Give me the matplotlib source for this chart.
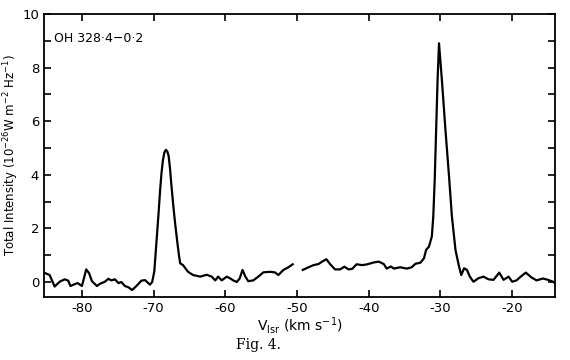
import matplotlib
matplotlib.use("Agg")
import matplotlib.pyplot as plt
from matplotlib.ticker import MultipleLocator

# Segment 1 (before gap)
v1 = [-85.1, -84.5, -83.8, -83.1, -82.4, -81.9, -81.6, -81.0, -80.6, -80.0, -79.8, -79.4,
      -79.0, -78.6, -77.9, -77.5, -76.8, -76.3, -75.9, -75.4, -74.9, -74.5, -74.0, -73.5,
      -73.0, -72.4, -71.7, -71.2, -70.5, -70.2, -69.9, -69.6, -69.3, -69.1, -68.9, -68.7,
      -68.5, -68.3, -68.1, -67.9, -67.7, -67.5, -67.2, -67.0, -66.7, -66.5, -66.3, -65.9,
      -65.2, -64.5, -63.5, -62.6, -61.9, -61.4,
      -61.0, -60.5, -59.8, -59.3, -58.9, -58.4, -58.0, -57.6, -57.2, -56.8, -56.1, -55.4,
      -54.7, -53.8, -53.1, -52.6, -51.9, -51.2, -50.6]
i1 = [0.33, 0.26, -0.17, 0.01, 0.10, 0.05, -0.15, -0.08, -0.04, -0.15, 0.05, 0.47,
      0.33, 0.03, -0.15, -0.07, 0.01, 0.12, 0.06, 0.10, -0.04, 0.00, -0.15, -0.20,
      -0.30, -0.15, 0.05, 0.07, -0.10, 0.00, 0.40, 1.50, 2.60, 3.40, 4.06, 4.55,
      4.83, 4.93, 4.88, 4.70, 4.20, 3.56, 2.70, 2.19, 1.50, 1.07, 0.70, 0.63,
      0.38, 0.26, 0.20, 0.27, 0.20, 0.06,
      0.20, 0.06, 0.20, 0.13, 0.06, 0.00, 0.13, 0.45, 0.20, 0.03, 0.06, 0.20,
      0.36, 0.38, 0.36, 0.26, 0.45, 0.55, 0.66]

# Segment 2 (after gap)
v2 = [-49.2, -48.4, -47.7, -47.0, -46.5, -45.9, -45.4, -44.7, -44.0, -43.4, -42.8, -42.3,
      -41.7, -40.9, -40.2, -39.3, -38.6, -37.9, -37.5, -36.9, -36.5, -35.6, -34.7, -34.0,
      -33.5, -32.8, -32.3, -32.0, -31.6, -31.2, -31.0, -30.8, -30.6, -30.4, -30.2, -29.8,
      -29.3, -28.8, -28.4, -27.9, -27.4, -27.1, -26.7, -26.3, -25.9, -25.4, -24.7, -24.0,
      -23.3, -22.6, -21.8, -21.2, -20.5, -20.0, -19.4, -18.8, -18.1, -17.3, -16.6, -15.7,
      -15.0, -14.3, -13.9]
i2 = [0.45, 0.55, 0.63, 0.67, 0.76, 0.85, 0.67, 0.47, 0.47, 0.57, 0.47, 0.49,
      0.66, 0.63, 0.66, 0.73, 0.76, 0.67, 0.50, 0.58, 0.50, 0.55, 0.50, 0.55,
      0.68, 0.72, 0.88, 1.20, 1.32, 1.70, 2.44, 3.81, 5.67, 7.54, 8.91, 7.54,
      5.67, 3.93, 2.44, 1.19, 0.57, 0.26, 0.51, 0.45, 0.20, 0.01, 0.14, 0.20,
      0.10, 0.08, 0.35, 0.08, 0.20, 0.01, 0.06, 0.20, 0.35, 0.17, 0.06, 0.13,
      0.08, 0.01, -0.07]

xticks = [-80, -70, -60, -50, -40, -30, -20]
yticks = [0, 2, 4, 6, 8, 10]

fig = plt.figure(figsize=(5.7, 3.6), dpi=100)
ax = fig.add_axes([0.077, 0.175, 0.897, 0.786])
ax.plot(v1, i1, color="black", lw=1.6)
ax.plot(v2, i2, color="black", lw=1.6)
ax.set_xlim(-85.3, -14.0)
ax.set_ylim(-0.56, 10)
ax.set_xticks(xticks)
ax.set_xticklabels([f"-{abs(t)}" for t in xticks])
ax.set_yticks(yticks)
ax.yaxis.set_minor_locator(MultipleLocator(1))
ax.tick_params(which="both", direction="in", top=True, right=True, labelsize=9.5,
               width=1.2, color="black")
ax.tick_params(which="major", length=5)
ax.tick_params(which="minor", length=5)
for s in ax.spines.values():
    s.set_linewidth(1.3)
ax.set_ylabel(r"Total Intensity (10$^{-26}$W m$^{-2}$ Hz$^{-1}$)", fontsize=8.5, labelpad=1)
ax.set_xlabel(r"V$_{\rm lsr}$ (km s$^{-1}$)", fontsize=10, labelpad=0)
ax.text(0.02, 0.915, "OH 328·4−0·2", transform=ax.transAxes, fontsize=9, va="center")
fig.text(0.453, 0.042, "Fig. 4.", fontsize=10, family="DejaVu Serif", ha="center",
         va="center", fontvariant="small-caps")
fig.savefig("out.png", dpi=100)
